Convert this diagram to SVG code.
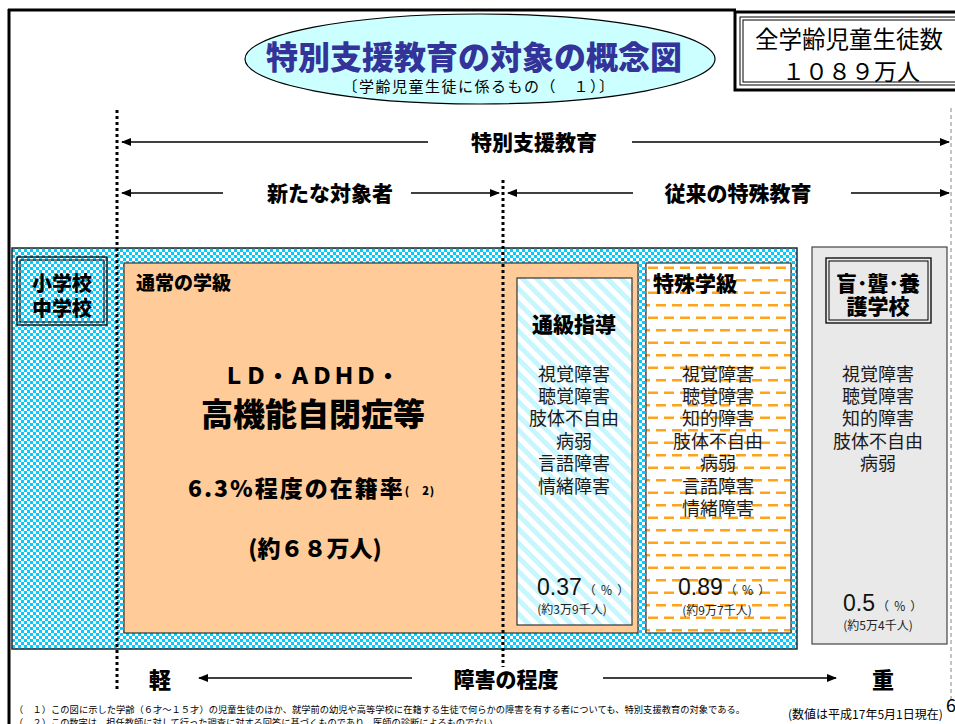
<svg xmlns="http://www.w3.org/2000/svg" width="955" height="724" viewBox="0 0 955 724">
<style>
text{font-family:"Noto Sans CJK JP","Noto Sans",sans-serif;fill:#000}
.c{text-anchor:middle;dominant-baseline:central}
.b{font-weight:900}
.h{font-size:21px;font-weight:900}
.l{font-size:18px;fill:#1a1a1a}
.num{font-family:"Liberation Sans",Arial,sans-serif;font-size:23px;fill:#111}
.pct{font-size:12px;fill:#222;letter-spacing:1px}
.sm{font-size:12px;fill:#222}
.arr{stroke:#000;stroke-width:1.3;fill:none;marker-end:url(#ah)}
.box{stroke:#333;stroke-width:1.2}
.frame{fill:none;stroke:#000}
</style>
<defs>
<pattern id="checker" width="6" height="6" patternUnits="userSpaceOnUse">
<rect width="6" height="6" fill="#00ccff"/>
<rect width="3" height="3" fill="#fff"/>
<rect x="3" y="3" width="3" height="3" fill="#fff"/>
</pattern>
<pattern id="stripes" width="10" height="10" patternUnits="userSpaceOnUse" patternTransform="rotate(-45)">
<rect width="10" height="10" fill="#fff"/>
<rect width="5" height="10" fill="#c8f6ff"/>
</pattern>
<pattern id="dashes" width="16" height="25" patternUnits="userSpaceOnUse">
<rect width="16" height="25" fill="#fff"/>
<rect x="0" y="4" width="10" height="2.5" fill="#ffa31a"/>
<rect x="8" y="16.5" width="10" height="2.5" fill="#ffa31a"/>
<rect x="-8" y="16.5" width="10" height="2.5" fill="#ffa31a"/>
</pattern>
<marker id="ah" viewBox="0 0 10 8" refX="9" refY="4" markerWidth="10" markerHeight="8" markerUnits="userSpaceOnUse" orient="auto">
<path d="M0,0L10,4L0,8z" fill="#000"/>
</marker>
</defs>
<rect width="955" height="724" fill="#fff"/>

<g id="frame">
<line x1="8" y1="10" x2="736" y2="10" stroke="#000" stroke-width="3"/>
<line x1="9" y1="9" x2="9" y2="724" stroke="#000" stroke-width="3"/>
</g>

<g id="title">
<ellipse cx="480" cy="59" rx="235" ry="45" fill="#ccffff" stroke="#000" stroke-width="1.2"/>
<text x="474" y="55" class="c b" font-size="32" style="fill:#333399">特別支援教育の対象の概念図</text>
<text x="479" y="85" class="c" font-size="15" letter-spacing="1.5">〔学齢児童生徒に係るもの（　１）〕</text>
</g>

<g id="total">
<rect x="735" y="12" width="230" height="78" class="frame" stroke-width="3"/>
<rect x="740" y="17" width="220" height="68" class="frame" stroke-width="1"/>
<rect x="743" y="20" width="220" height="62" class="frame" stroke-width="1"/>
<text x="849" y="38" class="c" font-size="23.5">全学齢児童生徒数</text>
<text x="851" y="70" class="c" font-size="23">１０８９万人</text>
</g>

<g id="school">
<rect x="12" y="248" width="785" height="401" fill="url(#checker)" stroke="#1a2a33" stroke-width="1.5"/>
<rect x="17" y="257" width="90" height="68" class="frame" stroke-width="1.3"/>
<rect x="20" y="260" width="84" height="62" class="frame" stroke-width="1"/>
<text x="62" y="282" class="c b" font-size="20">小学校</text>
<text x="62" y="307" class="c b" font-size="20">中学校</text>
</g>

<g id="regular">
<rect x="124" y="263" width="514" height="370" fill="#ffcc99" class="box"/>
<text x="136" y="281" class="b" font-size="19" dominant-baseline="central">通常の学級</text>
<text x="311" y="374" class="c b" font-size="22">ＬＤ・ＡＤＨＤ・</text>
<text x="313" y="412" class="c b" font-size="32">高機能自閉症等</text>
<text x="188" y="487" class="b" font-size="23" letter-spacing="2" dominant-baseline="central">6.3%程度の在籍率<tspan font-size="11" dy="3" letter-spacing="1">(　2)</tspan></text>
<text x="315" y="547" class="c b" font-size="23">(約６８万人)</text>
</g>

<g id="tsukyu">
<rect x="517" y="278" width="115" height="347" fill="url(#stripes)" class="box"/>
<text x="574" y="323" class="c b" font-size="21">通級指導</text>
<text x="574" y="373" class="c l">視覚障害</text>
<text x="574" y="395" class="c l">聴覚障害</text>
<text x="574" y="417" class="c l">肢体不自由</text>
<text x="574" y="440" class="c l">病弱</text>
<text x="574" y="462" class="c l">言語障害</text>
<text x="574" y="485" class="c l">情緒障害</text>
<text x="537" y="595" class="num">0.37<tspan class="pct" font-family="Noto Sans CJK JP" dx="2">（ ％ ）</tspan></text>
<text x="572" y="608" class="c sm">(約3万9千人)</text>
</g>

<g id="special-class">
<rect x="646" y="263" width="145" height="370" fill="url(#dashes)" class="box"/>
<text x="653" y="282" class="b" font-size="21" dominant-baseline="central">特殊学級</text>
<text x="718" y="373" class="c l">視覚障害</text>
<text x="718" y="395" class="c l">聴覚障害</text>
<text x="718" y="417" class="c l">知的障害</text>
<text x="718" y="440" class="c l">肢体不自由</text>
<text x="718" y="462" class="c l">病弱</text>
<text x="718" y="485" class="c l">言語障害</text>
<text x="718" y="507" class="c l">情緒障害</text>
<text x="678" y="595" class="num">0.89<tspan class="pct" font-family="Noto Sans CJK JP" dx="2">（ ％ ）</tspan></text>
<text x="717" y="609" class="c sm">(約9万7千人)</text>
</g>

<g id="special-school">
<rect x="812" y="247" width="135" height="397" fill="#e9e9e9" stroke="#444" stroke-width="1.2"/>
<rect x="826" y="258" width="105" height="65" class="frame" stroke-width="1.3"/>
<rect x="829" y="261" width="99" height="59" class="frame" stroke-width="1"/>
<text x="878" y="282" class="c b" font-size="21">盲･聾･養</text>
<text x="878" y="305" class="c b" font-size="21">護学校</text>
<text x="878" y="373" class="c l">視覚障害</text>
<text x="878" y="395" class="c l">聴覚障害</text>
<text x="878" y="417" class="c l">知的障害</text>
<text x="878" y="440" class="c l">肢体不自由</text>
<text x="878" y="462" class="c l">病弱</text>
<text x="843" y="611" class="num">0.5<tspan class="pct" font-family="Noto Sans CJK JP" dx="2">（ ％ ）</tspan></text>
<text x="878" y="624" class="c sm">(約5万4千人)</text>
</g>

<g id="guides">
<line x1="117" y1="110" x2="117" y2="690" stroke="#000" stroke-width="3" stroke-dasharray="3 3"/>
<line x1="503" y1="180" x2="503" y2="667" stroke="#000" stroke-width="3" stroke-dasharray="3 3"/>
<line x1="951" y1="108" x2="951" y2="700" stroke="#888" stroke-width="1" stroke-dasharray="4 3"/>
</g>

<g id="connectors">
<line x1="428" y1="142" x2="122" y2="142" class="arr"/>
<line x1="632" y1="142" x2="949" y2="142" class="arr"/>
<line x1="223" y1="193" x2="122" y2="193" class="arr"/>
<line x1="411" y1="193" x2="499" y2="193" class="arr"/>
<line x1="633" y1="193" x2="508" y2="193" class="arr"/>
<line x1="851" y1="193" x2="949" y2="193" class="arr"/>
<line x1="412" y1="678" x2="199" y2="678" class="arr"/>
<line x1="603" y1="678" x2="836" y2="678" class="arr"/>
</g>

<g id="labels">
<text x="534" y="141" class="c h">特別支援教育</text>
<text x="330" y="192" class="c h">新たな対象者</text>
<text x="738" y="192" class="c h">従来の特殊教育</text>
<text x="160" y="678" class="c b" font-size="22">軽</text>
<text x="506" y="678" class="c h">障害の程度</text>
<text x="883" y="678" class="c b" font-size="22">重</text>
</g>

<g id="notes">
<text x="14" y="712.5" font-size="9.3" textLength="731" lengthAdjust="spacingAndGlyphs">（　１）この図に示した学齢（６才～１５才）の児童生徒のほか、就学前の幼児や高等学校に在籍する生徒で何らかの障害を有する者についても、特別支援教育の対象である。</text>
<text x="14" y="726" font-size="9.3" textLength="488" lengthAdjust="spacingAndGlyphs">（　２）この数字は、担任教師に対して行った調査に対する回答に基づくものであり、医師の診断によるものでない。</text>
<text x="788" y="713" font-size="12" dominant-baseline="central">(数値は平成17年5月1日現在)</text>
<text x="946" y="704" font-size="18" dominant-baseline="central">6</text>
</g>
</svg>
